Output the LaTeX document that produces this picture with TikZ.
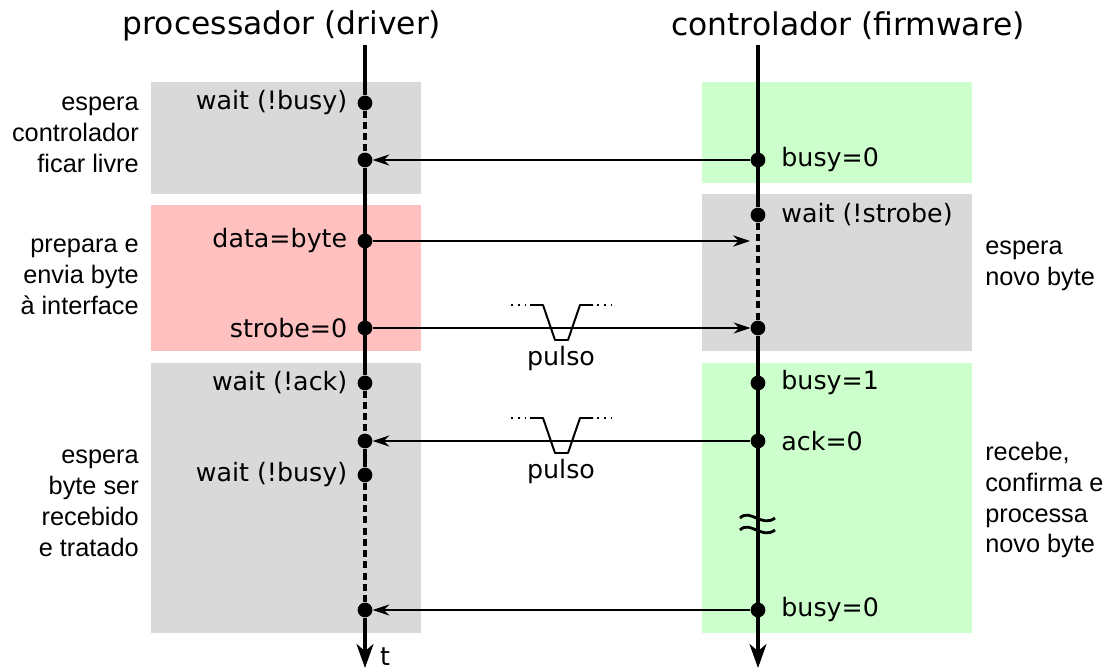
\documentclass[tikz,border=0pt]{standalone}
\usepackage{fontspec}
\setmainfont{DejaVu Sans}
\newfontfamily\sidefont{Liberation Sans}
\usetikzlibrary{arrows.meta,positioning}
\definecolor{boxgray}{RGB}{217,217,217}
\definecolor{boxpink}{RGB}{255,192,192}
\definecolor{boxgreen}{RGB}{204,255,204}

\begin{document}
\begin{tikzpicture}[x=0.025cm,y=-0.025cm,
	ev/.style={circle,fill=black,inner sep=0pt,minimum size=10.5pt},
	tl/.style={line width=2.4pt},
	tldash/.style={tl,dash pattern=on 5pt off 3pt},
	msg/.style={line width=0.8pt,-{Stealth[length=12pt,width=8pt,inset=4pt]}},
	evl/.style={inner sep=0pt,font=\fontsize{18}{22}\selectfont},
	side/.style={inner sep=0pt,font=\sidefont\fontsize{18}{22}\selectfont},
	title/.style={inner sep=0pt,font=\fontsize{22.3}{26}\selectfont},
	pulse/.style={line width=1.4pt,line join=round},
	dots/.style={line width=1.4pt,dash pattern=on 1.4pt off 3.4pt}]
	\useasboundingbox (0,0) rectangle (1107,670);

	% fases
	\fill[boxgray]  (151,82)  rectangle (421,194);
	\fill[boxpink]  (151,205) rectangle (421,351);
	\fill[boxgray]  (151,363) rectangle (421,633);
	\fill[boxgreen] (702,82)  rectangle (972,183);
	\fill[boxgray]  (702,194) rectangle (972,351);
	\fill[boxgreen] (702,363) rectangle (972,633);

	\node[title] at (282,26) {processador (driver)};
	\node[title] at (848,26) {controlador (firmware)};

	% eventos do processador
	\coordinate (p_top) at (365,45);
	\coordinate (p_end) at (365,668);
	\node[ev] (p_1) at (365,103) {};
	\node[ev] (p_2) at (365,160) {};
	\node[ev] (p_3) at (365,241) {};
	\node[ev] (p_4) at (365,328) {};
	\node[ev] (p_5) at (365,383) {};
	\node[ev] (p_6) at (365,441) {};
	\node[ev] (p_7) at (365,475) {};
	\node[ev] (p_8) at (365,610) {};

	% eventos do controlador
	\coordinate (c_top) at (758,45);
	\coordinate (c_end) at (758,668);
	\node[ev] (c_1) at (758,160) {};
	\node[ev] (c_2) at (758,215) {};
	\node[ev] (c_3) at (758,328) {};
	\node[ev] (c_4) at (758,383) {};
	\node[ev] (c_5) at (758,441) {};
	\node[ev] (c_6) at (758,610) {};
	\coordinate (c_data) at (750,241);

	% linhas de tempo
	\draw[tl] (p_top) -- (p_1);
	\draw[tldash] (p_1) -- (p_2);
	\draw[tl] (p_2) -- (p_5);
	\draw[tldash] (p_5) -- (p_6);
	\draw[tl] (p_6) -- (p_7);
	\draw[tldash] (p_7) -- (p_8);
	\draw[tl,-{Stealth[length=17pt,width=12pt,inset=5pt]}] (p_8) -- (p_end);
	\draw[tl] (c_top) -- (c_2);
	\draw[tldash] (c_2) -- (c_3);
	\draw[tl,-{Stealth[length=17pt,width=12pt,inset=5pt]}] (c_3) -- (c_end);
	\node[evl] (t) at (385,657) {t};

	% quebra de tempo
	\draw[line width=2pt] (740,518) .. controls (750,508) and (762,528) .. (775,518);
	\draw[line width=2pt] (740,530) .. controls (750,520) and (762,540) .. (775,530);

	% mensagens
	\draw[msg] (c_1) -- (p_2);
	\draw[msg] (p_3) -- (c_data);
	\draw[msg] (p_4) -- (c_3);
	\draw[msg] (c_5) -- (p_6);
	\draw[msg] (c_6) -- (p_8);

	% pulsos
	\foreach \y/\n in {328/1,441/2} {
		\draw[pulse] (530,\y-23) -- (543,\y-23) -- (555,\y+12) -- (568,\y+12) -- (580,\y-23) -- (593,\y-23);
		\draw[dots] (511,\y-23) -- (528,\y-23);
		\draw[dots] (597,\y-23) -- (614,\y-23);
		\node[evl] (pulso_\n) at (561,\y+31) {pulso};
	}

	% rotulos
	\node[evl,left=7pt of p_1] {wait (!busy)};
	\node[evl,left=7pt of p_3] {data=byte};
	\node[evl,left=7pt of p_4] {strobe=0};
	\node[evl,left=7pt of p_5] {wait (!ack)};
	\node[evl,left=7pt of p_7] {wait (!busy)};
	\node[evl,right=11pt of c_1] {busy=0};
	\node[evl,right=11pt of c_2] {wait (!strobe)};
	\node[evl,right=11pt of c_4] {busy=1};
	\node[evl,right=11pt of c_5] {ack=0};
	\node[evl,right=11pt of c_6] {busy=0};

	\node[side,align=right,anchor=east] (s_1) at (139,135) {espera\\controlador\\ficar livre};
	\node[side,align=right,anchor=east] (s_2) at (139,277) {prepara e\\envia byte\\à interface};
	\node[side,align=right,anchor=east] (s_3) at (139,503) {espera\\byte ser\\recebido\\e tratado};
	\node[side,align=left,anchor=west] (s_4) at (985,266) {espera\\novo byte};
	\node[side,align=left,anchor=west] (s_5) at (985,500) {recebe,\\confirma e\\processa\\novo byte};
\end{tikzpicture}
\end{document}
